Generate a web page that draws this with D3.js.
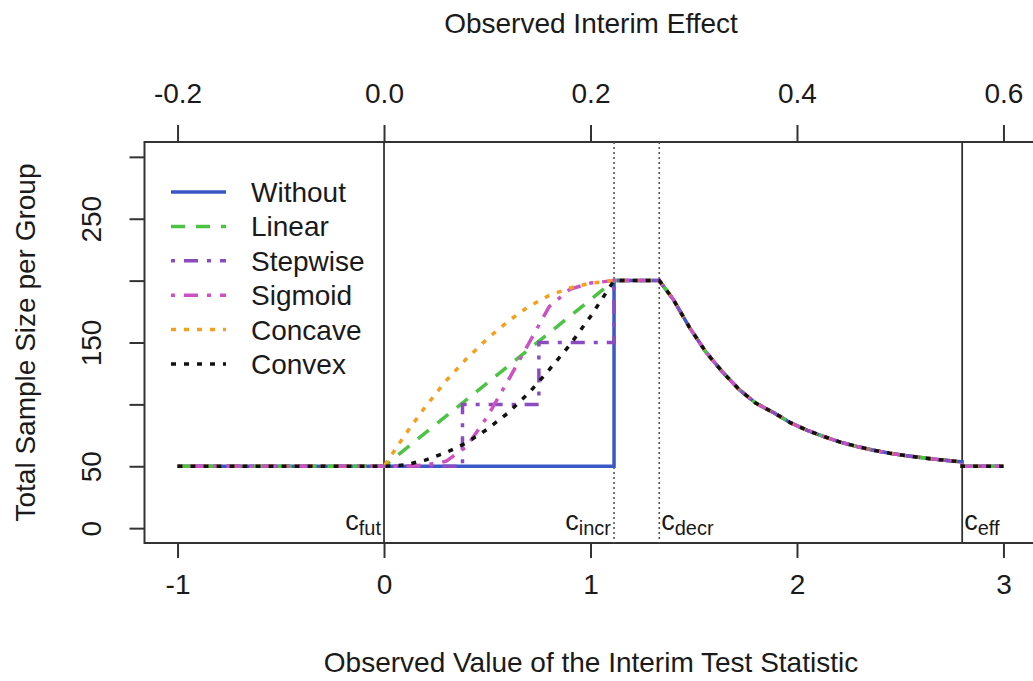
<!DOCTYPE html>
<html>
<head>
<meta charset="utf-8">
<script src="https://cdn.jsdelivr.net/npm/d3@7"></script>
<style>
  body { margin: 0; background: #fff; }
  svg { display: block; font-family: "Liberation Sans", Arial, sans-serif; }
</style>
</head>
<body>
<div id="chart"></div>
<script>
// series data (x = interim test statistic, y = sample size)
var names = ["Without", "Linear", "Stepwise", "Sigmoid", "Concave", "Convex"];
var colors = ["#3a59c6", "#4cc443", "#8a4cc0", "#cc52c4", "#f5a01c", "#111111"];

var flatLeftX = [-1, 0];
var flatLeftY = [50, 50];

var withoutX = [0, 1.114, 1.114];
var withoutY = [50, 50, 200];
var linearX = [0, 1.114];
var linearY = [50, 200];
var stepwiseX = [0, 0.38, 0.38, 0.75, 0.75, 1.114, 1.114];
var stepwiseY = [50, 50, 100, 100, 150, 150, 200];
var curveX = [0, 0.1, 0.2, 0.3, 0.4, 0.5, 0.6, 0.7, 0.8, 0.9, 1.0, 1.114];
var sigmoidY = [50, 50, 51, 54, 66, 90, 119, 149, 179, 193, 198, 200];
var concaveY = [50, 75, 98, 119, 137, 153, 167, 179, 188, 194, 198, 200];
var convexY = [50, 51, 55, 61, 69, 80, 93, 109, 128, 148, 171, 200];

var decrX = [1.114, 1.333, 1.40, 1.48, 1.56, 1.64, 1.72, 1.80, 1.89, 1.97, 2.05, 2.13, 2.21, 2.29, 2.37, 2.45, 2.53, 2.61, 2.69, 2.80, 2.80, 3.0];
var decrY = [200, 200, 185, 162, 142, 126, 112, 101, 93, 85, 79, 74, 69.5, 66, 63, 60.5, 58.5, 56.8, 55.3, 53.5, 50, 50];

var cutValues = [0, 1.114, 1.333, 2.8];
var cutNames = ["fut", "incr", "decr", "eff"];

var bottomTicks = [-1, 0, 1, 2, 3];
var topTicks = [-0.2, 0.0, 0.2, 0.4, 0.6];
var yTicks = [0, 50, 100, 150, 200, 250, 300];
var yTickLabels = [0, 50, 150, 250];

function join(xs, ys) {
    return xs.map(function(x, i) { return {x: x, y: ys[i]}; });
}
function fullSeries(xs, ys) {
    return join(flatLeftX, flatLeftY).concat(join(xs, ys), join(decrX, decrY));
}
var series = [
    fullSeries(withoutX, withoutY),
    fullSeries(linearX, linearY),
    fullSeries(stepwiseX, stepwiseY),
    fullSeries(curveX, sigmoidY),
    fullSeries(curveX, concaveY),
    fullSeries(curveX, convexY)
];
var dashes = [null, "14,11", "4,9,14,9", "4,9,14,9", "5,8", "5,8"];

var W = 1033, H = 681;
var svg = d3.select("#chart").append("svg")
    .attr("width", W)
    .attr("height", H);

var xScale = d3.scaleLinear().domain([-1.16, 3.16]).range([144.5, 1036.5]);
var xTop = d3.scaleLinear().domain([-0.232, 0.632]).range([144.5, 1036.5]);
var yScale = d3.scaleLinear().domain([-12, 312]).range([543, 142]);

var axisColor = "#333";
var textColor = "#1a1a1a";

// plot box
svg.append("rect")
    .attr("x", xScale(-1.16)).attr("y", yScale(312))
    .attr("width", xScale(3.16) - xScale(-1.16))
    .attr("height", yScale(-12) - yScale(312))
    .attr("fill", "none").attr("stroke", axisColor).attr("stroke-width", 2);

// axes
function styleAxis(g) {
    g.select(".domain").remove();
    g.selectAll(".tick line").attr("stroke", axisColor).attr("stroke-width", 2);
    g.selectAll(".tick text").attr("fill", textColor).attr("font-size", 28)
        .attr("font-family", "Liberation Sans, Arial, sans-serif");
}

var gB = svg.append("g")
    .attr("transform", "translate(0," + yScale(-12) + ")")
    .call(d3.axisBottom(xScale).tickValues(bottomTicks).tickSize(15).tickPadding(36)
        .tickFormat(function(d) { return String(d); }));
styleAxis(gB);
gB.selectAll(".tick text").attr("dy", 0);

var gT = svg.append("g")
    .attr("transform", "translate(0," + yScale(312) + ")")
    .call(d3.axisTop(xTop).tickValues(topTicks).tickSize(17).tickPadding(22)
        .tickFormat(function(d) { return d.toFixed(1); }));
styleAxis(gT);
gT.selectAll(".tick text").attr("dy", 0);

var gL = svg.append("g")
    .attr("transform", "translate(" + xScale(-1.16) + ",0)")
    .call(d3.axisLeft(yScale).tickValues(yTicks).tickSize(15)
        .tickFormat(function(d) { return yTickLabels.indexOf(d) >= 0 ? String(d) : ""; }));
styleAxis(gL);
gL.selectAll(".tick text")
    .attr("x", 0).attr("y", 0).attr("dy", 0)
    .attr("transform", "translate(-44,0) rotate(-90)")
    .attr("text-anchor", "middle");

// axis titles
svg.append("text")
    .attr("x", 591).attr("y", 33)
    .attr("text-anchor", "middle").attr("font-size", 28).attr("fill", textColor)
    .text("Observed Interim Effect");
svg.append("text")
    .attr("x", 591).attr("y", 672)
    .attr("text-anchor", "middle").attr("font-size", 28).attr("fill", textColor)
    .text("Observed Value of the Interim Test Statistic");
svg.append("text")
    .attr("transform", "translate(35," + yScale(150) + ") rotate(-90)")
    .attr("text-anchor", "middle").attr("font-size", 28).attr("fill", textColor)
    .text("Total Sample Size per Group");

// critical value lines
svg.selectAll(".cut")
    .data(cutValues)
    .enter().append("line")
    .attr("class", "cut")
    .attr("x1", function(d) { return xScale(d); })
    .attr("x2", function(d) { return xScale(d); })
    .attr("y1", yScale(312))
    .attr("y2", yScale(-12))
    .attr("stroke", function(d, i) { return (i == 1 || i == 2) ? "#555" : axisColor; })
    .attr("stroke-width", function(d, i) { return (i == 1 || i == 2) ? 1.6 : 1.8; })
    .attr("stroke-dasharray", function(d, i) { return (i == 1 || i == 2) ? "2,3" : null; });

// labels c_fut etc
var cutLabels = svg.selectAll(".cutlab")
    .data(cutValues)
    .enter().append("text")
    .attr("class", "cutlab")
    .attr("x", function(d, i) { return xScale(d) + (i < 2 ? -3 : 2); })
    .attr("y", 530)
    .attr("text-anchor", function(d, i) { return i < 2 ? "end" : "start"; })
    .attr("fill", textColor);
cutLabels.append("tspan").attr("font-size", 27).text("c");
cutLabels.append("tspan").attr("font-size", 20).attr("dy", 5)
    .text(function(d, i) { return cutNames[i]; });

// curves
var line = d3.line()
    .x(function(d) { return xScale(d.x); })
    .y(function(d) { return yScale(d.y); });

svg.selectAll(".curve")
    .data(series)
    .enter().append("path")
    .attr("class", "curve")
    .attr("d", line)
    .attr("fill", "none")
    .attr("stroke", function(d, i) { return colors[i]; })
    .attr("stroke-width", 3.5)
    .attr("stroke-dasharray", function(d, i) { return dashes[i]; });

// legend
var legend = svg.selectAll(".leg")
    .data(names)
    .enter().append("g")
    .attr("class", "leg")
    .attr("transform", function(d, i) { return "translate(0," + (192 + i * 34.4) + ")"; });
legend.append("line")
    .attr("x1", 171).attr("x2", 226)
    .attr("stroke", function(d, i) { return colors[i]; })
    .attr("stroke-width", 3.5)
    .attr("stroke-dasharray", function(d, i) { return dashes[i]; });
legend.append("text")
    .attr("x", 251).attr("y", 10)
    .attr("font-size", 28).attr("fill", textColor)
    .text(function(d) { return d; });
</script>
</body>
</html>
